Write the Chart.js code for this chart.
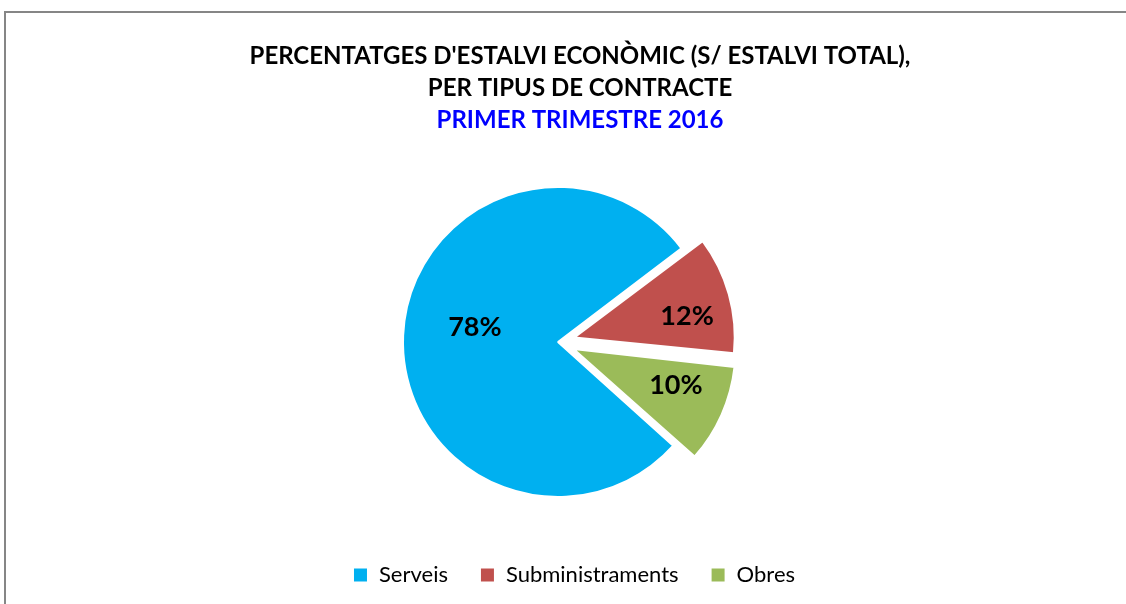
<!DOCTYPE html>
<html>
<head>
<meta charset="utf-8">
<script src="https://cdn.jsdelivr.net/npm/chart.js@4/dist/chart.umd.min.js"></script>
<style>
  html, body { margin: 0; padding: 0; background: #fff; overflow: hidden; }
  #frame { position: absolute; left: 4px; top: 11px; width: 2000px; height: 2000px;
           border-left: 2px solid #868686; border-top: 2px solid #868686; }
  #chart { position: absolute; left: 0; top: 0; }
</style>
</head>
<body>
<div id="frame"></div>
<canvas id="chart" width="1126" height="604"></canvas>
<script>
var categories = ["Serveis", "Subministraments", "Obres"];
var percentages = [78, 12, 10];
var sliceColors = ["#00B0F0", "#C0504D", "#9BBB59"];
var titleLines = ["PERCENTATGES D'ESTALVI ECONÒMIC (S/ ESTALVI TOTAL),", "PER TIPUS DE CONTRACTE"];
var subtitleText = "PRIMER TRIMESTRE 2016";

// where each percentage sits inside its slice (fraction of radius, angle nudge in degrees)
var labelRadius = [0.545, 0.74, 0.70];
var labelNudge = [7.8, 4.8, -4.6];

// the pie and the legend sit a bit left of the title centre
var shiftArea = {
  id: "shiftArea",
  afterLayout: function (chart) {
    chart.chartArea.right -= 44;
    chart.chartArea.width -= 44;
    chart.legend.left -= 6;
    chart.legend.right -= 6;
  }
};

var sliceLabels = {
  id: "sliceLabels",
  afterDatasetsDraw: function (chart) {
    var ctx = chart.ctx;
    var meta = chart.getDatasetMeta(0);
    ctx.save();
    ctx.font = "bold 27px Lato";
    ctx.fillStyle = "#000";
    ctx.textAlign = "center";
    ctx.textBaseline = "middle";
    meta.data.forEach(function (arc, i) {
      var p = arc.getProps(["x", "y", "startAngle", "endAngle", "outerRadius"], true);
      var mid = (p.startAngle + p.endAngle) / 2;
      var off = (arc.options.offset || 0) / 4;
      var cx = p.x + Math.cos(mid) * off;
      var cy = p.y + Math.sin(mid) * off;
      var a = mid + labelNudge[i] * Math.PI / 180;
      var r = p.outerRadius * labelRadius[i];
      ctx.fillText(percentages[i] + "%", cx + Math.cos(a) * r, cy + Math.sin(a) * r);
    });
    ctx.restore();
  }
};

var chart = new Chart(document.getElementById("chart"), {
  type: "pie",
  data: {
    labels: categories,
    datasets: [{
      data: percentages,
      backgroundColor: sliceColors,
      borderColor: "#fff",
      borderWidth: 2,
      offset: [0, 68, 68],
      radius: 155
    }]
  },
  options: {
    responsive: false,
    animation: false,
    rotation: 132,
    layout: { padding: { left: 34, right: 0, top: 0, bottom: 8 } },
    plugins: {
      title: {
        display: true,
        text: titleLines,
        color: "#000",
        font: { family: "Lato", size: 24, weight: "bold", lineHeight: 1.333 },
        padding: { top: 40, bottom: 0 }
      },
      subtitle: {
        display: true,
        text: subtitleText,
        color: "#0000FF",
        font: { family: "Lato", size: 24, weight: "bold", lineHeight: 1.333 },
        padding: { top: 0, bottom: 16 }
      },
      legend: {
        position: "bottom",
        labels: {
          boxWidth: 15,
          boxHeight: 15,
          padding: 32,
          color: "#000",
          font: { family: "Lato", size: 22 }
        }
      },
      tooltip: { enabled: false }
    }
  },
  plugins: [shiftArea, sliceLabels]
});
</script>
</body>
</html>
